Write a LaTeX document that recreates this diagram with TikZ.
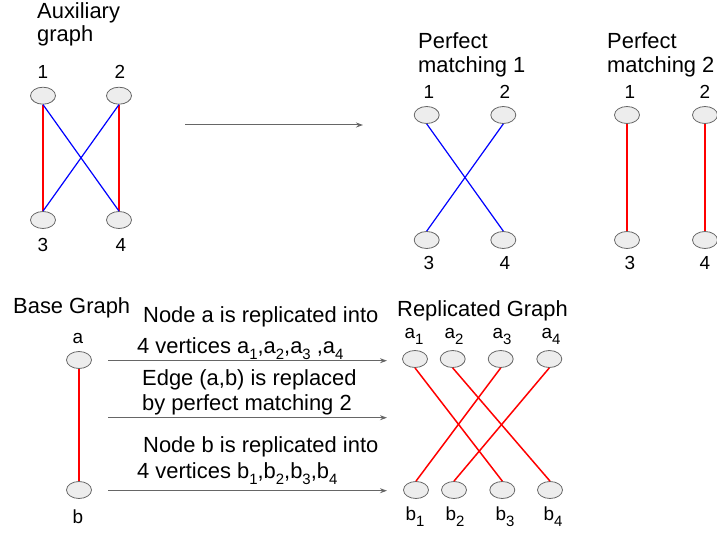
\documentclass[tikz,border=0pt]{standalone}
\usepackage{fontspec}
\setmainfont{Liberation Sans}
\usetikzlibrary{shapes.geometric,arrows.meta}
\newcommand{\sbs}[1]{\raisebox{-7pt}{\fontsize{15}{15}\selectfont #1}}
\tikzset{
  vtx/.style={ellipse, draw=black!60, fill=black!7, line width=0.8pt, minimum width=25bp, minimum height=17bp, inner sep=0pt},
  txt/.style={anchor=base west, inner sep=0pt, font=\fontsize{22}{24}\selectfont},
  lbl/.style={anchor=base, inner sep=0pt, font=\fontsize{19}{20}\selectfont},
  redge/.style={draw=red, line width=1.5bp},
  bedge/.style={draw=blue, line width=1.2bp},
  garrow/.style={draw=black!60, line width=1pt, -{Stealth[length=7pt,width=5pt]}}
}
\begin{document}
\begin{tikzpicture}[x=1bp,y=-1bp]
\useasboundingbox (0,0) rectangle (717,535);
% titles
\node[txt] (t1) at (37,18.5) {Auxiliary};
\node[txt] (t2) at (37,41.5) {graph};
\node[txt] (t3) at (418,48.3) {Perfect};
\node[txt] (t4) at (418,72.7) {matching 1};
\node[txt] (t5) at (607,48.3) {Perfect};
\node[txt] (t6) at (607,72.7) {matching 2};
\node[txt] (t7) at (13,313) {Base Graph};
\node[txt] (t8) at (397,316) {Replicated Graph};
\node[txt] (t9) at (143,322) {Node a is replicated into};
\node[txt] (t10) at (137,353) {4 vertices a\sbs{1},a\sbs{2},a\sbs{3} ,a\sbs{4}};
\node[txt] (t11) at (142,385) {Edge (a,b) is replaced};
\node[txt] (t12) at (142,410) {by perfect matching 2};
\node[txt] (t13) at (143,452) {Node b is replicated into};
\node[txt] (t14) at (137,478) {4 vertices b\sbs{1},b\sbs{2},b\sbs{3},b\sbs{4}};
% auxiliary graph
\node[vtx] (x1) at (43,95.7) {};
\node[vtx] (x2) at (119,95.7) {};
\node[vtx] (x3) at (43,220) {};
\node[vtx] (x4) at (119,220) {};
\node[lbl] (lx1) at (43,79) {1};
\node[lbl] (lx2) at (120,79) {2};
\node[lbl] (lx3) at (43,251.7) {3};
\node[lbl] (lx4) at (121,251.7) {4};
\draw[redge] (x1.south) -- (x3.north);
\draw[redge] (x2.south) -- (x4.north);
\draw[bedge] (x1.south) -- (x4.north);
\draw[bedge] (x2.south) -- (x3.north);
% top arrow
\coordinate (ta) at (185,125);
\coordinate (tb) at (363,125);
\draw[garrow] (ta) -- (tb);
% perfect matching 1
\node[vtx] (p1) at (426.7,115) {};
\node[vtx] (p2) at (503.3,115) {};
\node[vtx] (p3) at (426.7,240) {};
\node[vtx] (p4) at (503.3,240) {};
\node[lbl] (lp1) at (429,98.3) {1};
\node[lbl] (lp2) at (505,98.3) {2};
\node[lbl] (lp3) at (429,270) {3};
\node[lbl] (lp4) at (505,270) {4};
\draw[bedge] (p1.south) -- (p4.north);
\draw[bedge] (p2.south) -- (p3.north);
% perfect matching 2
\node[vtx] (q1) at (627,115) {};
\node[vtx] (q2) at (705,115) {};
\node[vtx] (q3) at (627,240) {};
\node[vtx] (q4) at (705,240) {};
\node[lbl] (lq1) at (630,98.3) {1};
\node[lbl] (lq2) at (705,98.3) {2};
\node[lbl] (lq3) at (630,270) {3};
\node[lbl] (lq4) at (705,270) {4};
\draw[redge] (q1.south) -- (q3.north);
\draw[redge] (q2.south) -- (q4.north);
% base graph
\node[vtx] (a) at (79,360) {};
\node[vtx] (b) at (79,490) {};
\node[lbl] (la) at (78,343) {a};
\node[lbl] (lb) at (78,523) {b};
\draw[redge] (a.south) -- (b.north);
% arrows
\coordinate (s1) at (108,360.7);
\coordinate (e1) at (387,360.7);
\coordinate (s2) at (108,417.7);
\coordinate (e2) at (387,417.7);
\coordinate (s3) at (108,490.7);
\coordinate (e3) at (387,490.7);
\draw[garrow] (s1) -- (e1);
\draw[garrow] (s2) -- (e2);
\draw[garrow] (s3) -- (e3);
% replicated graph
\node[vtx] (a1) at (415,359) {};
\node[vtx] (a2) at (452.7,359) {};
\node[vtx] (a3) at (500.7,359) {};
\node[vtx] (a4) at (549.3,359) {};
\node[vtx] (b1) at (416,490) {};
\node[vtx] (b2) at (454,490) {};
\node[vtx] (b3) at (502.3,490) {};
\node[vtx] (b4) at (550,490) {};
\node[lbl] (la1) at (414,338) {a\sbs{1}};
\node[lbl] (la2) at (454,338) {a\sbs{2}};
\node[lbl] (la3) at (502,338) {a\sbs{3}};
\node[lbl] (la4) at (551,338) {a\sbs{4}};
\node[lbl] (lb1) at (415,520) {b\sbs{1}};
\node[lbl] (lb2) at (455,520) {b\sbs{2}};
\node[lbl] (lb3) at (505,520) {b\sbs{3}};
\node[lbl] (lb4) at (553,520) {b\sbs{4}};
\draw[redge] (a1.south) -- (b3.north);
\draw[redge] (a2.south) -- (b4.north);
\draw[redge] (a3.south) -- (b1.north);
\draw[redge] (a4.south) -- (b2.north);
\end{tikzpicture}
\end{document}
